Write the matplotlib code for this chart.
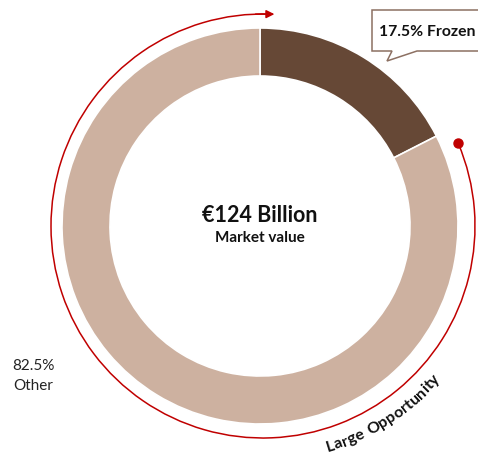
import numpy as np
import matplotlib

matplotlib.use("Agg")
import matplotlib.pyplot as plt
from matplotlib.patches import Arc, Polygon

plt.rcParams["font.family"] = ["Lato", "DejaVu Sans"]

# market split
segments = ["Frozen", "Other"]
shares = [17.5, 82.5]
seg_colors = ["#664836", "#CDB1A0"]
total_label = "€124 Billion"
total_sub = "Market value"
arc_label = "Large Opportunity"

RED = "#C00000"
W, H = 478, 456
cx, cy = 260, 229
r_out, r_in = 198, 150

fig = plt.figure(figsize=(W / 100, H / 100), dpi=100)
ax = fig.add_axes([0, 0, 1, 1])
ax.set_xlim(0, W)
ax.set_ylim(0, H)
ax.set_aspect("equal")
ax.axis("off")

ax.pie(shares, colors=seg_colors, startangle=90, counterclock=False,
       radius=r_out, center=(cx, cy),
       wedgeprops=dict(width=r_out - r_in, edgecolor="white", linewidth=1.2))
ax.set_xlim(0, W)
ax.set_ylim(0, H)

ax.text(cx, cy + 12, total_label, ha="center", va="center",
        fontsize=15.5, fontweight="bold", color="#111111")
ax.text(cx, cy - 11, total_sub, ha="center", va="center",
        fontsize=11, fontweight="bold", color="#111111")

# red opportunity arc with dot at the start and arrow at the end
acx, acy, ar = 263, 229, 212
a_start, a_end = 23, 88
ax.add_patch(Arc((acx, acy), 2 * ar, 2 * ar, theta1=a_end, theta2=a_start + 360,
                 color=RED, lw=1.1))
sx = acx + ar * np.cos(np.radians(a_start))
sy = acy + ar * np.sin(np.radians(a_start))
ax.plot(sx, sy, "o", color=RED, ms=6.5)
ex = acx + ar * np.cos(np.radians(a_end))
ey = acy + ar * np.sin(np.radians(a_end))
bx = acx + ar * np.cos(np.radians(a_end + 4))
by = acy + ar * np.sin(np.radians(a_end + 4))
ax.annotate("", xy=(ex + 4, ey), xytext=(bx, by),
            arrowprops=dict(arrowstyle="-|>", color=RED, lw=1.1,
                            mutation_scale=12, shrinkA=0, shrinkB=0))

# curved label below the arc, letters spaced by their own widths
renderer = fig.canvas.get_renderer()
txt_r = 230
txt_size = 11.5
widths = []
for ch in arc_label:
    probe = ax.text(0, 0, ch if ch != " " else "n", fontsize=txt_size,
                    fontweight="bold")
    w = probe.get_window_extent(renderer).width
    widths.append(w * (0.55 if ch == " " else 1.0))
    probe.remove()
total = sum(widths)
mid_ang = -57.3
pos = -total / 2
for ch, w in zip(arc_label, widths):
    a = mid_ang + np.degrees((pos + w / 2) / txt_r)
    pos += w
    tx = acx + txt_r * np.cos(np.radians(a))
    ty = acy + txt_r * np.sin(np.radians(a))
    ax.text(tx, ty, ch, rotation=a + 90, rotation_mode="anchor",
            ha="center", va="center", fontsize=txt_size, fontweight="bold",
            color="#111111")

# callout for the frozen share
box = Polygon([(372, H - 11), (482, H - 11), (482, H - 52), (417, H - 52),
               (387, H - 62), (392, H - 52), (372, H - 52)],
              closed=True, facecolor="white", edgecolor="#8C7062", lw=1.1)
ax.add_patch(box)
ax.text(379, H - 32, f"{shares[0]}% {segments[0]}", ha="left", va="center",
        fontsize=11.3, fontweight="bold", color="#111111")

ax.text(33, H - 376, f"{shares[1]}%\n{segments[1]}", ha="center", va="center",
        fontsize=11, color="#222222", linespacing=1.5)

fig.savefig("out.png", dpi=100)
